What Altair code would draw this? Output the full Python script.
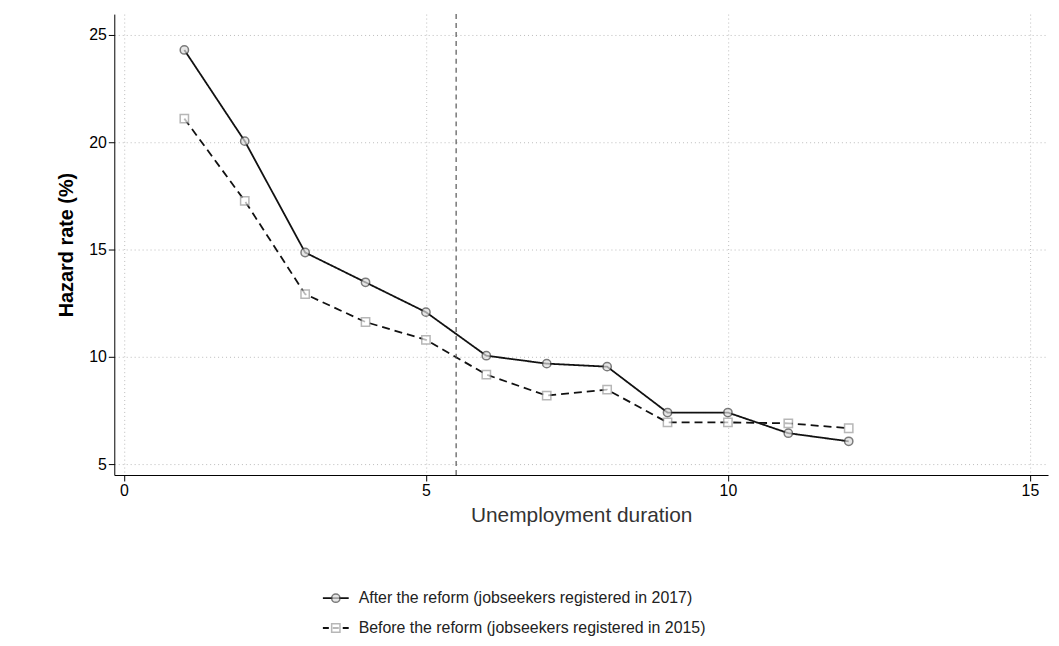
import altair as alt
import pandas as pd

months = list(range(1, 13))
after = [24.3, 20.05, 14.86, 13.47, 12.08, 10.05, 9.68, 9.54, 7.4, 7.4, 6.44, 6.06]
before = [21.1, 17.27, 12.92, 11.62, 10.79, 9.17, 8.19, 8.47, 6.94, 6.94, 6.9, 6.67]

lab_a = "After the reform (jobseekers registered in 2017)"
lab_b = "Before the reform (jobseekers registered in 2015)"

df = pd.DataFrame({
    "month": months * 2,
    "rate": after + before,
    "group": [lab_a] * 12 + [lab_b] * 12,
})

dom = [lab_a, lab_b]
x = alt.X("month:Q", title="Unemployment duration",
          scale=alt.Scale(domain=[-0.16, 15.3], nice=False),
          axis=alt.Axis(values=[0, 5, 10, 15], format="d", grid=True, gridDash=[1, 3], gridColor="#bbb",
                        tickSize=6, labelFontSize=16, titleFontSize=21, titleFontWeight="normal",
                        titlePadding=6, domainColor="#000", tickColor="#000", labelColor="#000",
                        titleColor="#333"))
y = alt.Y("rate:Q", title="Hazard rate (%)",
          scale=alt.Scale(domain=[4.49, 25.97], nice=False),
          axis=alt.Axis(values=[5, 10, 15, 20, 25], grid=True, gridDash=[1, 3], gridColor="#bbb",
                        tickSize=6, labelFontSize=16, titleFontSize=20, titleFontWeight="bold",
                        titlePadding=12, domainColor="#000", tickColor="#000", labelColor="#000"))

base = alt.Chart(df)
lines = base.mark_line(strokeWidth=1.8, color="#111").encode(
    x=x, y=y,
    strokeDash=alt.StrokeDash("group:N", scale=alt.Scale(domain=dom, range=[[1, 0], [8, 5]]),
                              legend=None),
)
pts = base.mark_point(size=70, strokeWidth=1.5, filled=False).encode(
    x=x, y=y,
    shape=alt.Shape("group:N", scale=alt.Scale(domain=dom, range=["circle", "square"]), legend=None),
    stroke=alt.Stroke("group:N", scale=alt.Scale(domain=dom, range=["#444", "#999"]), legend=None),
    fill=alt.Fill("group:N", scale=alt.Scale(domain=dom, range=["#ddd", "#fff"]), legend=None),
)

# legend rows drawn manually
leg = pd.DataFrame({"group": dom, "yy": [1, 2]})
lx0, lx1 = 320, 346
off = 110
ysc = alt.Scale(range=[0, 60])
leg_line = alt.Chart(leg).mark_rule(strokeWidth=1.8, color="#111").encode(
    x=alt.value(lx0 - off), x2=alt.value(lx1 - off),
    y=alt.Y("yy:O", axis=None, scale=ysc),
    strokeDash=alt.StrokeDash("group:N", scale=alt.Scale(domain=dom, range=[[1, 0], [6, 4]]), legend=None),
)
leg_pt = alt.Chart(leg).mark_point(size=70, strokeWidth=1.5).encode(
    x=alt.value((lx0 + lx1) / 2 - off),
    y=alt.Y("yy:O", axis=None, scale=ysc),
    shape=alt.Shape("group:N", scale=alt.Scale(domain=dom, range=["circle", "square"]), legend=None),
    stroke=alt.Stroke("group:N", scale=alt.Scale(domain=dom, range=["#444", "#999"]), legend=None),
    fill=alt.Fill("group:N", scale=alt.Scale(domain=dom, range=["#ddd", "#fff"]), legend=None),
)
leg_txt = alt.Chart(leg).mark_text(align="left", fontSize=16, color="#222").encode(
    x=alt.value(lx1 + 10 - off),
    y=alt.Y("yy:O", axis=None, scale=ysc),
    text="group:N",
)
legend_chart = (leg_line + leg_pt + leg_txt).properties(width=940, height=60)

vline = alt.Chart(pd.DataFrame({"v": [5.5]})).mark_rule(strokeDash=[5, 4], color="#555", strokeWidth=1.2).encode(x="v:Q")

main = (lines + pts + vline).properties(width=940, height=464)

chart = alt.vconcat(main, legend_chart, spacing=56).resolve_scale(
    strokeDash="independent", shape="independent", stroke="independent", fill="independent"
).configure(font="Liberation Sans", view=alt.ViewConfig(stroke="transparent")).properties(
    padding={"left": 48, "top": 2, "right": 2, "bottom": 2})

chart.save("out.html", embed_options={"renderer": "svg", "actions": False})
